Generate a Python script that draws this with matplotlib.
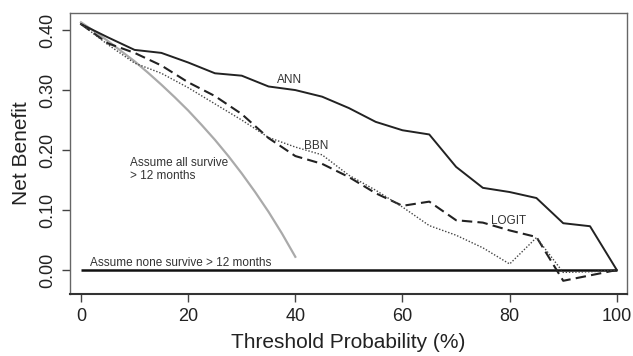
import matplotlib
matplotlib.use("Agg")
import matplotlib.pyplot as plt

plt.rcParams['font.family'] = ['Liberation Sans', 'DejaVu Sans']

# Threshold probabilities (%)
thresholds = [0, 5, 10, 15, 20, 25, 30, 35, 40, 45, 50, 55, 60, 65, 70, 75, 80, 85, 90, 95, 100]

ann = [0.410, 0.388, 0.367, 0.362, 0.346, 0.328, 0.324, 0.306, 0.300, 0.289, 0.270, 0.247,
       0.233, 0.226, 0.172, 0.137, 0.130, 0.120, 0.078, 0.073, 0.000]
logit = [0.410, 0.378, 0.362, 0.341, 0.313, 0.290, 0.260, 0.220, 0.190, 0.177, 0.155, 0.128,
         0.107, 0.114, 0.083, 0.079, 0.066, 0.055, -0.018, -0.009, 0.000]
bbn = [0.410, 0.376, 0.345, 0.328, 0.304, 0.277, 0.250, 0.221, 0.205, 0.192, 0.158, 0.133,
       0.105, 0.074, 0.058, 0.037, 0.010, 0.054, -0.004, -0.003, 0.000]

# "Assume all survive" curve (treat all)
all_x = [0, 2.5, 5, 7.5, 10, 12.5, 15, 17.5, 20, 22.5, 25, 27.5, 30, 32.5, 35, 37.5, 40]
all_y = [0.413, 0.398, 0.382, 0.365, 0.348, 0.329, 0.309, 0.288, 0.266, 0.242, 0.217,
         0.190, 0.161, 0.130, 0.097, 0.061, 0.022]

# "Assume none survive" line
none_x = [0, 100]
none_y = [0.0, 0.0]

xticks = [0, 20, 40, 60, 80, 100]
yticks = [0.0, 0.1, 0.2, 0.3, 0.4]
yticklabels = ["0.00", "0.10", "0.20", "0.30", "0.40"]

fig = plt.figure(figsize=(6.33, 3.56), dpi=100)
ax = fig.add_axes([0.1106, 0.1742, 0.8799, 0.7901])

ax.plot(none_x, none_y, color='#111111', lw=1.8, solid_capstyle='butt')
ax.plot(all_x, all_y, color='#aaaaaa', lw=1.6)
ax.plot(thresholds, ann, color='#222222', lw=1.4)
ax.plot(thresholds, logit, color='#222222', lw=1.5, linestyle=(0, (5, 2.5)))
ax.plot(thresholds, bbn, color='#444444', lw=1.0, linestyle=(0, (1, 1.3)))

txt = dict(fontsize=8.5, color='#333333')
ax.text(38.9, 0.317, "ANN", ha='center', va='center', **txt)
ax.text(43.9, 0.207, "BBN", ha='center', va='center', **txt)
ax.text(79.8, 0.082, "LOGIT", ha='center', va='center', **txt)
ax.text(9.1, 0.178, "Assume all survive", ha='left', va='center', **txt)
ax.text(9.1, 0.157, "> 12 months", ha='left', va='center', **txt)
ax.text(1.7, 0.012, "Assume none survive > 12 months", ha='left', va='center', **txt)

ax.set_xlim(-2.05, 101.9)
ax.set_ylim(-0.04, 0.429)
ax.set_xticks(xticks)
ax.set_xticklabels([str(t) for t in xticks], fontsize=13, color='#222222')
ax.set_yticks(yticks)
ax.set_yticklabels(yticklabels, fontsize=13, rotation=90, va='center', color='#222222')
ax.tick_params(axis='both', direction='out', length=6, width=1, color='#444444', pad=4)

ax.set_xlabel("Threshold Probability (%)", fontsize=15, color='#222222', labelpad=6)
ax.set_ylabel("Net Benefit", fontsize=15, color='#222222', labelpad=6)

for side in ['top', 'right', 'left']:
    ax.spines[side].set_color('#666666')
    ax.spines[side].set_linewidth(1.0)
ax.spines['bottom'].set_color('#333333')
ax.spines['bottom'].set_linewidth(1.5)

fig.savefig("out.png", dpi=100)
